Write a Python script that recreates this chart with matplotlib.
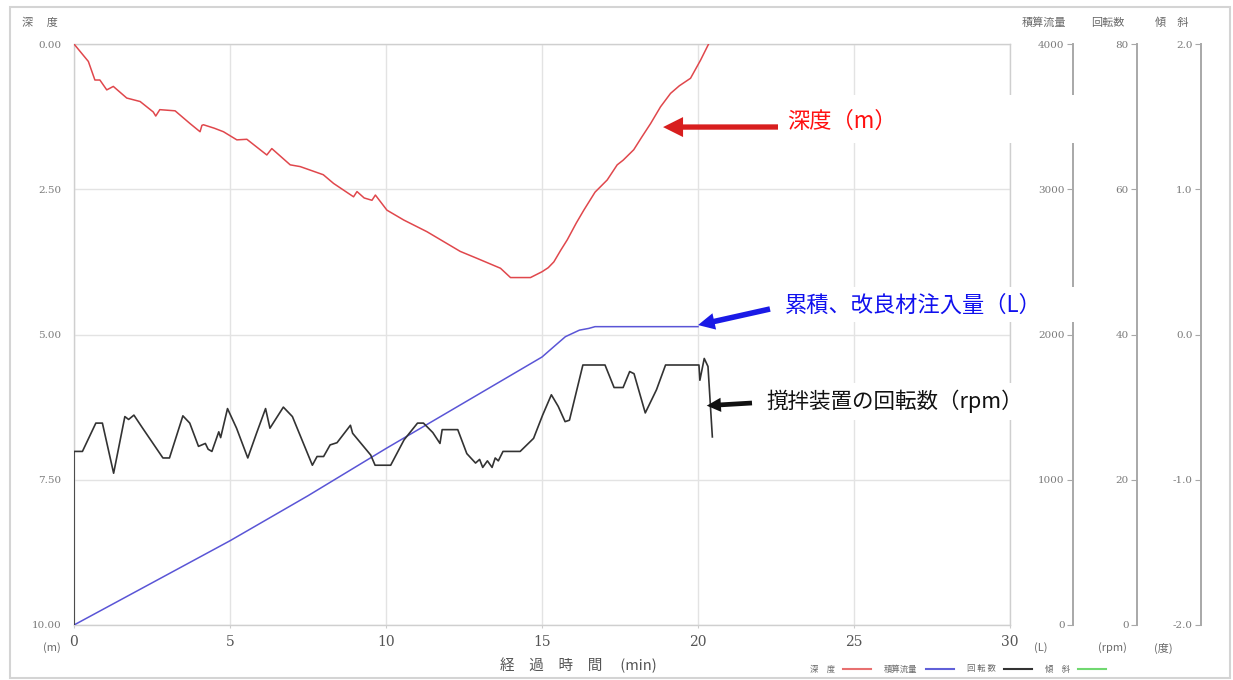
import matplotlib
matplotlib.use("Agg")
import matplotlib.pyplot as plt
from matplotlib.patches import Rectangle, ConnectionPatch
from matplotlib.lines import Line2D

plt.rcParams['font.family'] = ['Noto Sans CJK JP', 'DejaVu Sans']

# ---- data -------------------------------------------------------------
# depth of the mixing head (m) against elapsed time (min)
depth_t = [0.00, 0.46, 0.67, 0.83, 1.05, 1.26, 1.69, 2.12, 2.54, 2.62, 2.75, 3.24,
           3.72, 4.04, 4.10, 4.15, 4.50, 4.79, 5.22, 5.54, 6.18, 6.34, 6.93, 7.25,
           7.99, 8.32, 8.96, 9.07, 9.30, 9.55, 9.66, 10.03, 10.57, 11.31, 12.38,
           12.92, 13.67, 13.99, 14.63, 15.00, 15.20, 15.38, 15.60, 15.81, 16.10,
           16.34, 16.70, 17.09, 17.41, 17.60, 17.94, 18.20, 18.48, 18.80, 19.12,
           19.40, 19.76, 20.08, 20.34]
depth_m = [0.00, 0.30, 0.62, 0.62, 0.79, 0.73, 0.93, 0.99, 1.17, 1.24, 1.13, 1.15,
           1.37, 1.51, 1.40, 1.39, 1.45, 1.51, 1.65, 1.64, 1.91, 1.80, 2.08, 2.11,
           2.25, 2.40, 2.63, 2.54, 2.65, 2.69, 2.60, 2.86, 3.03, 3.23, 3.57,
           3.69, 3.86, 4.02, 4.02, 3.92, 3.85, 3.75, 3.55, 3.37, 3.08,
           2.86, 2.55, 2.34, 2.08, 2.00, 1.82, 1.60, 1.37, 1.08, 0.85,
           0.72, 0.59, 0.28, 0.00]

# cumulative injected volume (L)
flow_t = [0.0, 2.5, 5.0, 7.5, 10.0, 12.5, 15.0, 15.4, 15.75, 16.2, 16.5, 16.7, 20.0]
flow_l = [0, 290, 580, 890, 1215, 1530, 1845, 1920, 1985, 2030, 2042, 2054, 2054]

# mixer rotation speed (rpm)
rpm_t = [0.00, 0.00, 0.27, 0.70, 0.91, 1.27, 1.63, 1.75, 1.92, 2.20, 2.85, 3.06,
         3.49, 3.71, 3.99, 4.21, 4.30, 4.42, 4.64, 4.70, 4.92, 5.21, 5.57, 5.85,
         6.14, 6.28, 6.71, 7.00, 7.64, 7.79, 8.00, 8.21, 8.43, 8.86, 8.93, 9.51,
         9.65, 10.15, 10.58, 11.01, 11.20, 11.50, 11.73, 11.80, 12.30, 12.59,
         12.87, 13.00, 13.10, 13.25, 13.40, 13.50, 13.60, 13.75, 14.30, 14.73,
         15.02, 15.30, 15.52, 15.74, 15.88, 16.31, 17.02, 17.31, 17.60, 17.81,
         17.95, 18.31, 18.67, 18.96, 20.03, 20.06, 20.20, 20.32, 20.46]
rpm_v = [0.0, 23.9, 23.9, 27.8, 27.8, 20.9, 28.7, 28.3, 28.9, 27.1, 23.0, 23.0,
         28.8, 27.8, 24.6, 25.0, 24.2, 23.9, 26.6, 25.8, 29.8, 27.1, 23.0, 26.4,
         29.8, 27.1, 30.0, 28.7, 22.0, 23.2, 23.2, 24.8, 25.1, 27.5, 26.4, 23.4,
         22.0, 22.0, 25.5, 27.8, 27.8, 26.5, 25.0, 26.9, 26.9, 23.6,
         22.3, 22.8, 21.7, 22.6, 21.7, 23.0, 22.6, 23.9, 23.9, 25.7,
         28.9, 31.7, 30.1, 28.0, 28.2, 35.8, 35.8, 32.7, 32.7, 34.9,
         34.6, 29.2, 32.4, 35.8, 35.8, 33.7, 36.7, 35.6, 25.9]

time_ticks = [0, 5, 10, 15, 20, 25, 30]
depth_ticks = [0.0, 2.5, 5.0, 7.5, 10.0]
depth_labels = ['0.00', '2.50', '5.00', '7.50', '10.00']
flow_ticks = [0, 1000, 2000, 3000, 4000]
rpm_ticks = [0, 20, 40, 60, 80]
tilt_ticks = [-2.0, -1.0, 0.0, 1.0, 2.0]
tilt_labels = ['-2.0', '-1.0', '0.0', '1.0', '2.0']

# ---- figure -----------------------------------------------------------
W, H = 1233, 680
fig = plt.figure(figsize=(W / 100, H / 100), dpi=100)


def fx(px):
    return px / W


def fy(py):
    return 1 - py / H


L, R, T, B = 74, 1010, 44, 625
ax = fig.add_axes([fx(L), fy(B), fx(R) - fx(L), fy(T) - fy(B)])

NUM = 'DejaVu Serif'
GRAY_TXT = '#6a6a6a'
SPINE = '#a8a8a8'

ax.set_xlim(0, 30)
ax.set_ylim(10, 0)
ax.set_xticks(time_ticks)
ax.set_xticklabels([str(t) for t in time_ticks], fontfamily=NUM, fontsize=10,
                   color='#555555')
ax.set_yticks(depth_ticks)
ax.set_yticklabels(depth_labels, fontfamily=NUM, fontsize=7.5, color='#7a7a7a')
ax.tick_params(axis='x', length=2, color='#cccccc', pad=5)
ax.tick_params(axis='y', length=0, pad=9)
ax.grid(True, color='#e3e3e3', lw=1)
for s in ax.spines.values():
    s.set_color('#cfcfcf')
    s.set_linewidth(1)

ax.plot(depth_t, depth_m, color='#e0474c', lw=1.1, zorder=3)


def side_axis(pos_px, lim, ticks, labels):
    a = ax.twinx()
    a.set_ylim(*lim)
    for s in ['top', 'bottom', 'right']:
        a.spines[s].set_visible(False)
    a.spines['left'].set_position(('axes', (pos_px - L) / (R - L)))
    a.spines['left'].set_color(SPINE)
    a.spines['left'].set_linewidth(1.4)
    a.yaxis.set_ticks_position('left')
    a.yaxis.set_label_position('left')
    a.set_yticks(ticks)
    a.set_yticklabels(labels, fontfamily=NUM, fontsize=7.5, color='#7a7a7a')
    a.tick_params(axis='y', length=4, width=0.8, color=SPINE, pad=2)
    return a


ax_flow = side_axis(1073, (0, 4000), flow_ticks, [str(v) for v in flow_ticks])
ax_rpm = side_axis(1137, (0, 80), rpm_ticks, [str(v) for v in rpm_ticks])
ax_tilt = side_axis(1201, (-2, 2), tilt_ticks, tilt_labels)

ax_flow.plot(flow_t, flow_l, color='#5a55d6', lw=1.1, zorder=3)
ax_rpm.plot(rpm_t, rpm_v, color='#333333', lw=1.2, zorder=3)

# ---- axis captions ----------------------------------------------------
cap = dict(fontsize=8, color=GRAY_TXT, va='center')
fig.text(fx(22), fy(23), '深　 度', ha='left', **cap)
fig.text(fx(1066), fy(23), '積算流量', ha='right', **cap)
fig.text(fx(1124), fy(23), '回転数', ha='right', **cap)
fig.text(fx(1188), fy(23), '傾　斜', ha='right', **cap)
fig.text(fx(52), fy(648), '(m)', ha='center', **cap)
fig.text(fx(1041), fy(648), '(L)', ha='center', **cap)
fig.text(fx(1112), fy(648), '(rpm)', ha='center', **cap)
fig.text(fx(1163), fy(648), '(度)', ha='center', **cap)
fig.text(fx(578), fy(665), '経　過　時　間　 (min)', ha='center', fontsize=10.5,
         color='#555555', va='center')

# ---- legend -----------------------------------------------------------
handles = [Line2D([], [], color='#e87070', lw=1.5),
           Line2D([], [], color='#6060d8', lw=1.5),
           Line2D([], [], color='#333333', lw=1.5),
           Line2D([], [], color='#70d870', lw=1.5)]
fig.legend(handles, ['深　度', '積算流量', '回 転 数', '傾　斜'], ncol=4,
           markerfirst=False, frameon=False, fontsize=6, labelcolor=GRAY_TXT,
           handlelength=3.3, handletextpad=1.0, columnspacing=1.6,
           loc='center', bbox_to_anchor=(fx(958), fy(669)))

# ---- callouts ---------------------------------------------------------
def white_box(x0, y0, x1, y1):
    fig.add_artist(Rectangle((fx(x0), fy(y1)), fx(x1) - fx(x0), fy(y0) - fy(y1),
                             transform=fig.transFigure, facecolor='white',
                             edgecolor='none', zorder=5))


def arrow(tail_px, head, target_ax, color, scale, tail_w=0.2):
    style = f'simple,head_length=0.6,head_width=0.6,tail_width={tail_w}'
    cp = ConnectionPatch(xyA=(fx(tail_px[0]), fy(tail_px[1])), coordsA=fig.transFigure,
                         xyB=head, coordsB=target_ax.transData,
                         arrowstyle=style, mutation_scale=scale, color=color,
                         lw=0, zorder=7)
    fig.add_artist(cp)


white_box(773, 95, 1100, 143)
white_box(770, 287, 1080, 322)
white_box(758, 383, 1022, 420)

fig.text(fx(787), fy(121), '深度（m）', color='#ff1010', fontsize=16,
         ha='left', va='center', zorder=8)
fig.text(fx(785), fy(305), '累積、改良材注入量（L）', color='#1010ee', fontsize=16,
         ha='left', va='center', zorder=8)
fig.text(fx(766), fy(401), '撹拌装置の回転数（rpm）', color='#111111', fontsize=15.5,
         ha='left', va='center', zorder=8)

arrow((778, 127), (18.88, 1.43), ax, '#d81e1e', 24, 0.16)
arrow((770, 309), (20.0, 2065), ax_flow, '#1a1ae6', 20, 0.2)
arrow((752, 403), (20.28, 30.2), ax_rpm, '#111111', 17, 0.2)

# ---- outer frame ------------------------------------------------------
fig.add_artist(Rectangle((fx(10), fy(678)), fx(1230) - fx(10), fy(7) - fy(678),
                         transform=fig.transFigure, facecolor='none',
                         edgecolor='#d4d4d4', lw=1.5, zorder=9))

fig.savefig('out.png', dpi=100)
